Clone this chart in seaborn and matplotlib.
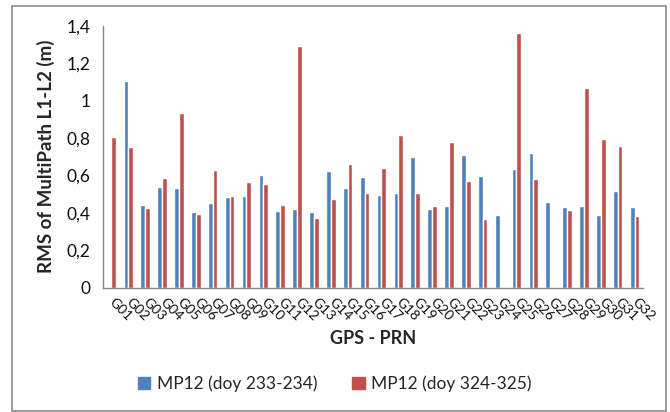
import numpy as np
import pandas as pd
import matplotlib
matplotlib.use('Agg')
import matplotlib.pyplot as plt
from matplotlib.patches import Rectangle
from matplotlib.ticker import FuncFormatter, MultipleLocator
import seaborn as sns

# PRN labels and RMS values (m)
prns = ['G01', 'G02', 'G03', 'G04', 'G05', 'G06', 'G07', 'G08', 'G09', 'G10',
        'G11', 'G12', 'G13', 'G14', 'G15', 'G16', 'G17', 'G18', 'G19', 'G20',
        'G21', 'G22', 'G23', 'G24', 'G25', 'G26', 'G27', 'G28', 'G29', 'G30',
        'G31', 'G32']
mp12_233 = [np.nan, 1.106, 0.442, 0.540, 0.534, 0.403, 0.454, 0.483, 0.488, 0.604,
            0.408, 0.419, 0.403, 0.622, 0.534, 0.593, 0.494, 0.506, 0.697, 0.419,
            0.436, 0.707, 0.599, 0.390, 0.632, 0.720, 0.460, 0.431, 0.436, 0.390,
            0.517, 0.431]
mp12_324 = [0.807, 0.750, 0.424, 0.588, 0.934, 0.396, 0.627, 0.488, 0.565, 0.554,
            0.444, 1.293, 0.372, 0.472, 0.663, 0.506, 0.640, 0.818, 0.506, 0.436,
            0.777, 0.568, 0.367, np.nan, 1.361, 0.581, np.nan, 0.413, 1.067, 0.795,
            0.755, 0.385]
series = ['MP12 (doy 233-234)', 'MP12 (doy 324-325)']
colors = ['#4F81BD', '#C0504D']

df = pd.DataFrame({
    'PRN': prns * 2,
    'RMS': mp12_233 + mp12_324,
    'Series': [series[0]] * len(prns) + [series[1]] * len(prns),
})

sns.set_style('white')
plt.rcParams['font.family'] = ['Lato', 'DejaVu Sans']

fig = plt.figure(figsize=(6.7, 4.12), dpi=100)
ax = fig.add_axes([0.1537, 0.3017, 0.806, 0.6359])

sns.barplot(data=df.dropna(), x='PRN', y='RMS', hue='Series', order=prns,
            hue_order=series, palette=colors, width=0.56, saturation=1,
            errorbar=None, ax=ax)

gray = '#868686'
ax.set_xlim(-0.5, len(prns) - 0.5)
ax.set_ylim(0, 1.4)
ax.yaxis.set_major_locator(MultipleLocator(0.2))
ax.yaxis.set_major_formatter(FuncFormatter(lambda v, _: f'{v:g}'.replace('.', ',')))
for s in ['top', 'right']:
    ax.spines[s].set_visible(False)
for s in ['left', 'bottom']:
    ax.spines[s].set_color(gray)
    ax.spines[s].set_linewidth(1.0)

ax.set_xticks(range(len(prns)))
ax.set_xticklabels(prns, rotation=-45, ha='left', va='center', rotation_mode='anchor',
                   fontsize=10, color='#111111')
ax.set_xticks(np.arange(-0.5, len(prns)), minor=True)
ax.tick_params(axis='x', which='major', length=0, pad=9)
ax.tick_params(axis='x', which='minor', length=4, color=gray, direction='out')
ax.tick_params(axis='y', length=4, color=gray, direction='out', labelsize=12.5,
               labelcolor='#111111', pad=5)

ax.set_xlabel('GPS - PRN', fontsize=13, fontweight='bold', labelpad=5)
ax.set_ylabel('RMS of MultiPath L1-L2 (m)', fontsize=13.5, fontweight='bold', labelpad=8)

ax.get_legend().remove()
handles = [Rectangle((0, 0), 1, 1, color=c) for c in colors]
fig.legend(handles, series, loc='center', bbox_to_anchor=(0.5, 0.068), ncol=2,
           frameon=False, fontsize=12.5, handlelength=0.7, handleheight=0.7,
           handletextpad=0.4, columnspacing=2.0)

fig.patches.append(Rectangle((12.5 / 670, 1 / 412), 653.5 / 670, 405 / 412,
                             transform=fig.transFigure, fill=False,
                             edgecolor='#8c8c8c', linewidth=1.2))

fig.savefig('out.png', dpi=100)
